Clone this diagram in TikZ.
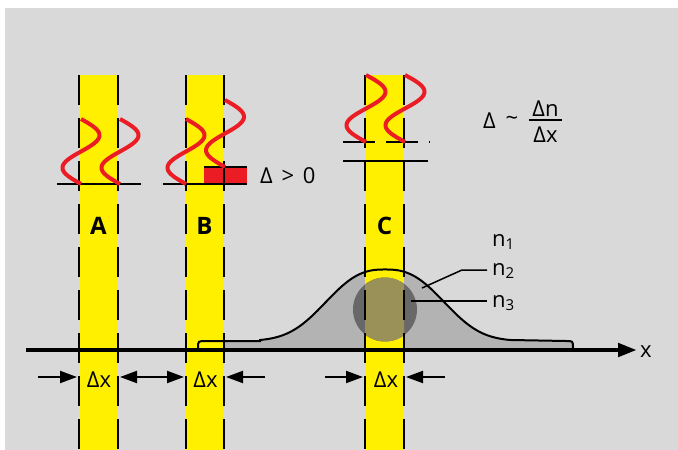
\documentclass[tikz,border=0pt]{standalone}
\usepackage{fontspec}
\setmainfont{Open Sans}
\usetikzlibrary{arrows.meta}
\definecolor{bggray}{HTML}{D9D9D9}
\definecolor{bandyellow}{HTML}{FFF000}
\definecolor{wavered}{HTML}{EC1C24}
\definecolor{bumpgray}{HTML}{B3B3B3}
\definecolor{circdark}{HTML}{686868}
\definecolor{circolive}{HTML}{9A9158}
\newcommand{\mywave}[4]{\draw[redwave] plot[domain=0:360,samples=60,smooth] ({#1+#2*sin(\x)},{#3+(\x/360)*#4});}
\newcommand{\subn}[1]{n\raisebox{-3pt}{\fontsize{15}{15}\selectfont #1}}
\begin{document}
\begin{tikzpicture}[x=1pt,y=-1pt,
  dline/.style={line width=2pt, dash pattern=on 30pt off 13pt},
  hline/.style={line width=2pt},
  redwave/.style={draw=wavered, line width=4pt},
  arr/.style={line width=2pt, -{Triangle[length=17pt,width=12pt]}},
  dblarr/.style={line width=2pt, {Triangle[length=17pt,width=12pt]}-{Triangle[length=17pt,width=12pt]}},
  lbl/.style={font=\fontsize{22}{26}\selectfont, inner sep=0pt},
  bandlbl/.style={font=\fontsize{24}{28}\selectfont\bfseries, inner sep=0pt},
  leader/.style={line width=1.5pt}
]
\fill[white] (0,0) rectangle (678,450);
\useasboundingbox (0,0) rectangle (678,450);
\fill[bggray] (5,8) rectangle (678,450);

% bump fill
\fill[bumpgray] (198,350) -- (198,348) .. controls (198,341) .. (206,341) -- (260,341)
  -- plot[domain=260:510,samples=101,smooth] (\x,{341-71.5*exp(-pow((abs(\x-385)+0.01)/71.7,2.6))})
  -- (566,341) .. controls (573,341) .. (573,348) -- (573,350) -- cycle;

% bands
\fill[bandyellow] (79,75) rectangle (118,450);
\fill[bandyellow] (186,75) rectangle (224,450);
\fill[bandyellow] (365,75) rectangle (404,450);

% bump outline
\draw[line width=2pt] (198,350) -- (198,348) .. controls (198,341) .. (206,341) -- (260,341)
  -- plot[domain=260:510,samples=101,smooth] (\x,{341-71.5*exp(-pow((abs(\x-385)+0.01)/71.7,2.6))})
  -- (566,341) .. controls (573,341) .. (573,348) -- (573,350);

% core circle
\fill[circdark] (385,309.5) circle (32pt);
\begin{scope}
  \clip (365,75) rectangle (404,450);
  \fill[circolive] (385,309.5) circle (32pt);
\end{scope}

% red step
\fill[wavered] (204,167) rectangle (247,184);

% horizontal lines
\draw[hline] (57,184) -- (141,184);
\draw[hline] (163,184) -- (247,184);
\draw[hline] (204,167) -- (247,167);
\draw[hline, dash pattern=on 32pt off 11pt] (343,142) -- (430,142);
\draw[hline] (343,161) -- (428,161);

% dashed band edges
\foreach \xx in {79,118,186,224,365,404} \draw[dline] (\xx,75) -- (\xx,450);

% waves
\mywave{81}{18.5}{119}{65}
\mywave{120}{18.5}{119}{65}
\mywave{186}{18.5}{119}{65}
\mywave{225}{19}{100}{67}
\mywave{366}{19.5}{75}{67}
\mywave{405}{19.5}{75}{67}

% axis
\coordinate (ax0) at (26,350);
\coordinate (ax1) at (637,350);
\draw[line width=4.5pt, -{Triangle[length=19pt,width=13pt]}] (ax0) -- (ax1);
\node[lbl, anchor=base] (xlbl) at (646,357) {x};

% band labels
\node[bandlbl, anchor=base] (lA) at (98.5,234) {A};
\node[bandlbl, anchor=base] (lB) at (204.5,234) {B};
\node[bandlbl, anchor=base] (lC) at (384.5,234) {C};

% delta > 0
\node[lbl, anchor=base west] (dgt) at (260,183.5) {Δ\hspace{0.4em}>\hspace{0.4em}0};

% delta ~ dn/dx
\node[lbl, anchor=base west] (dsim) at (483,128.3) {Δ};
\node[lbl] (tilde) at (512,121) {\char"007E};
\node[lbl, anchor=base] (dn) at (545.5,116) {Δn};
\node[lbl, anchor=base] (dxf) at (545.5,142.7) {Δx};
\coordinate (fr0) at (529,120);
\coordinate (fr1) at (562,120);
\draw[line width=1.8pt] (fr0) -- (fr1);

% n labels
\node[lbl, anchor=base west] (n1) at (492,246) {\subn{1}};
\node[lbl, anchor=base west] (n2) at (492,275) {\subn{2}};
\node[lbl, anchor=base west] (n3) at (492,307) {\subn{3}};
\coordinate (l2a) at (487,270);
\coordinate (l2b) at (462,270);
\coordinate (l2c) at (422,288);
\draw[leader] (l2a) -- (l2b) -- (l2c);
\coordinate (l3a) at (487,301);
\coordinate (l3b) at (411,301);
\draw[leader] (l3a) -- (l3b);

% delta x labels and arrows
\node[lbl, anchor=base] (dxA) at (99,387) {Δx};
\node[lbl, anchor=base] (dxB) at (205.5,387) {Δx};
\node[lbl, anchor=base] (dxC) at (386,387) {Δx};
\coordinate (a1) at (38,377);
\coordinate (a1t) at (77,377);
\coordinate (ab1) at (120,377);
\coordinate (ab2) at (184,377);
\coordinate (b2) at (265,377);
\coordinate (b2t) at (226,377);
\coordinate (c1) at (325,377);
\coordinate (c1t) at (363,377);
\coordinate (c2) at (445,377);
\coordinate (c2t) at (406,377);
\draw[arr] (a1) -- (a1t);
\draw[dblarr] (ab1) -- (ab2);
\draw[arr] (b2) -- (b2t);
\draw[arr] (c1) -- (c1t);
\draw[arr] (c2) -- (c2t);
\end{tikzpicture}
\end{document}
